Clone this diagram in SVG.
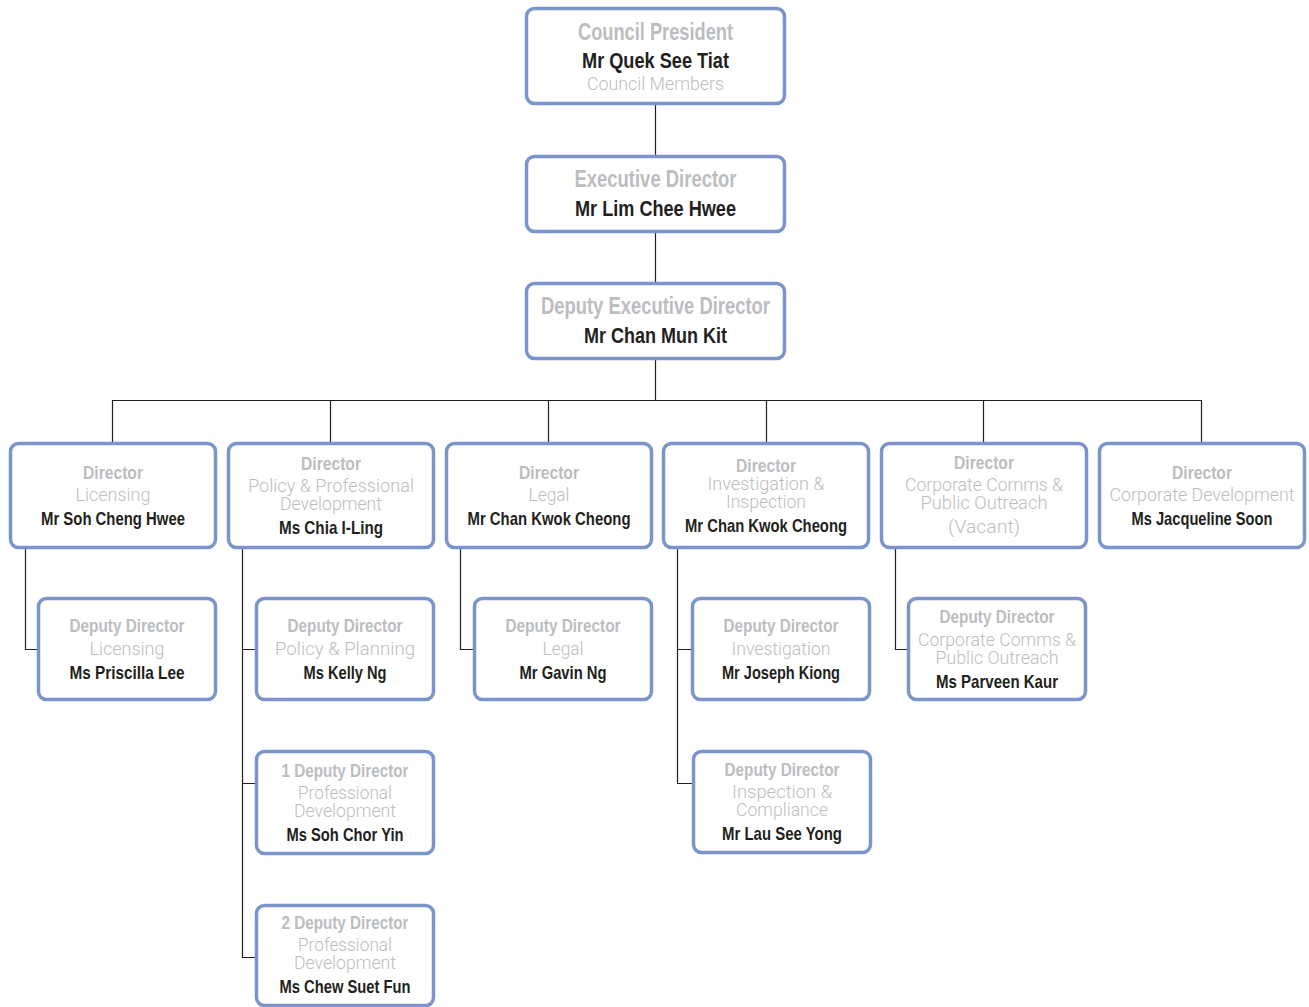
<svg xmlns="http://www.w3.org/2000/svg" width="1309" height="1007" viewBox="0 0 1309 1007">
<style>
.box{fill:#fff;stroke:#7b94cb;stroke-width:3.5}
.c{fill:none;stroke:#231f20;stroke-width:1.2}
text{text-anchor:middle;font-family:"Liberation Sans","Arial",sans-serif}
.t{font-weight:bold;fill:#bcbdc0;font-size:19px}
.n{font-weight:bold;fill:#231f20;font-size:19px}
.d{font-family:"Roboto","Liberation Sans",sans-serif;font-weight:300;fill:#bcbdc0;font-size:17.5px}
.bt{font-size:23px}
.bn{font-size:22px}
</style>
<g id="connectors">
<path class="c" d="M655.5 104V156M655.5 232V283M655.5 359V400.5M112.5 400.5H1201.5M112.5 400V443M330.5 400V443M548.5 400V443M766.5 400V443M983.5 400V443M1201.5 400V443"/>
<path class="c" d="M25.5 548V649.5H38"/>
<path class="c" d="M242.5 548V957.5H256M242.5 649.5H256M242.5 783.5H256"/>
<path class="c" d="M460.5 548V649.5H474"/>
<path class="c" d="M677.5 548V783.5H693M677.5 649.5H692"/>
<path class="c" d="M895.5 548V649.5H908"/>
</g>
<g id="council-president">
<rect class="box" x="526.5" y="8.5" width="258" height="95" rx="8"/>
<text class="t bt" x="655.5" y="40" textLength="155" lengthAdjust="spacingAndGlyphs">Council President</text>
<text class="n bn" x="655.5" y="68" textLength="147" lengthAdjust="spacingAndGlyphs">Mr Quek See Tiat</text>
<text class="d" x="655.5" y="90" textLength="137" lengthAdjust="spacingAndGlyphs">Council Members</text>
</g>
<g id="executive-director">
<rect class="box" x="526.5" y="156.5" width="258" height="75" rx="8"/>
<text class="t bt" x="655.5" y="187" textLength="162" lengthAdjust="spacingAndGlyphs">Executive Director</text>
<text class="n bn" x="655.5" y="216" textLength="161" lengthAdjust="spacingAndGlyphs">Mr Lim Chee Hwee</text>
</g>
<g id="deputy-executive-director">
<rect class="box" x="526.5" y="283.5" width="258" height="75" rx="8"/>
<text class="t bt" x="655.5" y="314" textLength="229" lengthAdjust="spacingAndGlyphs">Deputy Executive Director</text>
<text class="n bn" x="655.5" y="343" textLength="143" lengthAdjust="spacingAndGlyphs">Mr Chan Mun Kit</text>
</g>
<g id="dir-licensing">
<rect class="box" x="10.5" y="443.5" width="205" height="104" rx="8"/>
<text class="t" x="113" y="479" textLength="60" lengthAdjust="spacingAndGlyphs">Director</text>
<text class="d" x="113" y="501" textLength="75" lengthAdjust="spacingAndGlyphs">Licensing</text>
<text class="n" x="113" y="525" textLength="144" lengthAdjust="spacingAndGlyphs">Mr Soh Cheng Hwee</text>
</g>
<g id="dir-policy">
<rect class="box" x="228.5" y="443.5" width="205" height="104" rx="8"/>
<text class="t" x="331" y="470" textLength="60" lengthAdjust="spacingAndGlyphs">Director</text>
<text class="d" x="331" y="492" textLength="166" lengthAdjust="spacingAndGlyphs">Policy &amp; Professional</text>
<text class="d" x="331" y="510" textLength="102" lengthAdjust="spacingAndGlyphs">Development</text>
<text class="n" x="331" y="534" textLength="104" lengthAdjust="spacingAndGlyphs">Ms Chia I-Ling</text>
</g>
<g id="dir-legal">
<rect class="box" x="446.5" y="443.5" width="205" height="104" rx="8"/>
<text class="t" x="549" y="479" textLength="60" lengthAdjust="spacingAndGlyphs">Director</text>
<text class="d" x="549" y="501" textLength="41" lengthAdjust="spacingAndGlyphs">Legal</text>
<text class="n" x="549" y="525" textLength="163" lengthAdjust="spacingAndGlyphs">Mr Chan Kwok Cheong</text>
</g>
<g id="dir-investigation">
<rect class="box" x="663.5" y="443.5" width="205" height="104" rx="8"/>
<text class="t" x="766" y="472" textLength="60" lengthAdjust="spacingAndGlyphs">Director</text>
<text class="d" x="766" y="490" textLength="117" lengthAdjust="spacingAndGlyphs">Investigation &amp;</text>
<text class="d" x="766" y="508" textLength="80" lengthAdjust="spacingAndGlyphs">Inspection</text>
<text class="n" x="766" y="532" textLength="162" lengthAdjust="spacingAndGlyphs">Mr Chan Kwok Cheong</text>
</g>
<g id="dir-corp-comms">
<rect class="box" x="881.5" y="443.5" width="205" height="104" rx="8"/>
<text class="t" x="984" y="469" textLength="60" lengthAdjust="spacingAndGlyphs">Director</text>
<text class="d" x="984" y="491" textLength="158" lengthAdjust="spacingAndGlyphs">Corporate Comms &amp;</text>
<text class="d" x="984" y="509" textLength="127" lengthAdjust="spacingAndGlyphs">Public Outreach</text>
<text class="d" x="984" y="533" textLength="72" lengthAdjust="spacingAndGlyphs">(Vacant)</text>
</g>
<g id="dir-corp-dev">
<rect class="box" x="1099.5" y="443.5" width="205" height="104" rx="8"/>
<text class="t" x="1202" y="479" textLength="60" lengthAdjust="spacingAndGlyphs">Director</text>
<text class="d" x="1202" y="501" textLength="185" lengthAdjust="spacingAndGlyphs">Corporate Development</text>
<text class="n" x="1202" y="525" textLength="141" lengthAdjust="spacingAndGlyphs">Ms Jacqueline Soon</text>
</g>
<g id="dd-licensing">
<rect class="box" x="38.5" y="598.5" width="177" height="101" rx="8"/>
<text class="t" x="127" y="632" textLength="115" lengthAdjust="spacingAndGlyphs">Deputy Director</text>
<text class="d" x="127" y="655" textLength="75" lengthAdjust="spacingAndGlyphs">Licensing</text>
<text class="n" x="127" y="679" textLength="115" lengthAdjust="spacingAndGlyphs">Ms Priscilla Lee</text>
</g>
<g id="dd-policy-planning">
<rect class="box" x="256.5" y="598.5" width="177" height="101" rx="8"/>
<text class="t" x="345" y="632" textLength="115" lengthAdjust="spacingAndGlyphs">Deputy Director</text>
<text class="d" x="345" y="655" textLength="140" lengthAdjust="spacingAndGlyphs">Policy &amp; Planning</text>
<text class="n" x="345" y="679" textLength="83" lengthAdjust="spacingAndGlyphs">Ms Kelly Ng</text>
</g>
<g id="dd-legal">
<rect class="box" x="474.5" y="598.5" width="177" height="101" rx="8"/>
<text class="t" x="563" y="632" textLength="115" lengthAdjust="spacingAndGlyphs">Deputy Director</text>
<text class="d" x="563" y="655" textLength="41" lengthAdjust="spacingAndGlyphs">Legal</text>
<text class="n" x="563" y="679" textLength="87" lengthAdjust="spacingAndGlyphs">Mr Gavin Ng</text>
</g>
<g id="dd-investigation">
<rect class="box" x="692.5" y="598.5" width="177" height="101" rx="8"/>
<text class="t" x="781" y="632" textLength="115" lengthAdjust="spacingAndGlyphs">Deputy Director</text>
<text class="d" x="781" y="655" textLength="99" lengthAdjust="spacingAndGlyphs">Investigation</text>
<text class="n" x="781" y="679" textLength="118" lengthAdjust="spacingAndGlyphs">Mr Joseph Kiong</text>
</g>
<g id="dd-corp-comms">
<rect class="box" x="908.5" y="598.5" width="177" height="101" rx="8"/>
<text class="t" x="997" y="623" textLength="115" lengthAdjust="spacingAndGlyphs">Deputy Director</text>
<text class="d" x="997" y="646" textLength="158" lengthAdjust="spacingAndGlyphs">Corporate Comms &amp;</text>
<text class="d" x="997" y="664" textLength="123" lengthAdjust="spacingAndGlyphs">Public Outreach</text>
<text class="n" x="997" y="688" textLength="122" lengthAdjust="spacingAndGlyphs">Ms Parveen Kaur</text>
</g>
<g id="dd-prof-dev-1">
<rect class="box" x="256.5" y="751.5" width="177" height="102" rx="8"/>
<text class="t" x="345" y="777" textLength="127" lengthAdjust="spacingAndGlyphs">1 Deputy Director</text>
<text class="d" x="345" y="799" textLength="94" lengthAdjust="spacingAndGlyphs">Professional</text>
<text class="d" x="345" y="817" textLength="102" lengthAdjust="spacingAndGlyphs">Development</text>
<text class="n" x="345" y="841" textLength="117" lengthAdjust="spacingAndGlyphs">Ms Soh Chor Yin</text>
</g>
<g id="dd-inspection">
<rect class="box" x="693.5" y="751.5" width="177" height="101" rx="8"/>
<text class="t" x="782" y="776" textLength="115" lengthAdjust="spacingAndGlyphs">Deputy Director</text>
<text class="d" x="782" y="798" textLength="100" lengthAdjust="spacingAndGlyphs">Inspection &amp;</text>
<text class="d" x="782" y="816" textLength="92" lengthAdjust="spacingAndGlyphs">Compliance</text>
<text class="n" x="782" y="840" textLength="120" lengthAdjust="spacingAndGlyphs">Mr Lau See Yong</text>
</g>
<g id="dd-prof-dev-2">
<rect class="box" x="256.5" y="905.5" width="177" height="100" rx="8"/>
<text class="t" x="345" y="929" textLength="127" lengthAdjust="spacingAndGlyphs">2 Deputy Director</text>
<text class="d" x="345" y="951" textLength="94" lengthAdjust="spacingAndGlyphs">Professional</text>
<text class="d" x="345" y="969" textLength="102" lengthAdjust="spacingAndGlyphs">Development</text>
<text class="n" x="345" y="993" textLength="131" lengthAdjust="spacingAndGlyphs">Ms Chew Suet Fun</text>
</g>
</svg>
